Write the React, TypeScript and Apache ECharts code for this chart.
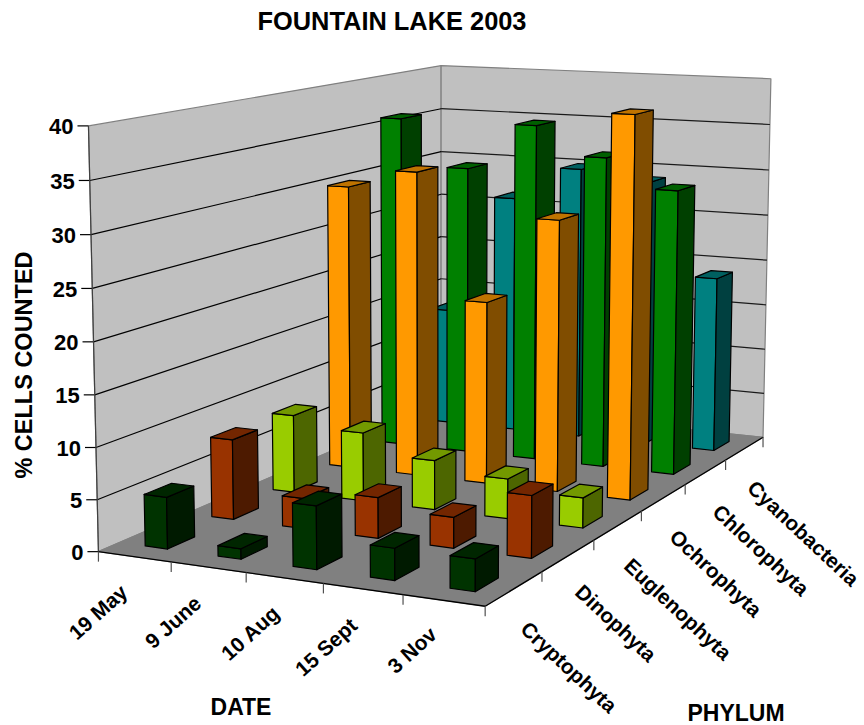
import React, { useEffect, useRef } from "react";
import * as echarts from "echarts";

const title = "FOUNTAIN LAKE 2003";
const dates = ["19 May", "9 June", "10 Aug", "15 Sept", "3 Nov"];
const phyla = ["Cryptophyta", "Dinophyta", "Euglenophyta", "Ochrophyta", "Chlorophyta", "Cyanobacteria"];
const valueTicks = [0, 5, 10, 15, 20, 25, 30, 35, 40];

const cryptophyta = [5, 1, 6, 3, 3];
const dinophyta = [8, 3, 4, 3, 6];
const euglenophyta = [8, 7, 5, 4, 3];
const ochrophyta = [30, 32, 19, 28, 39];
const chlorophyta = [36, 31, 36, 33, 30];
const cyanobacteria = [13, 26.3, 30, 29, 19];
const seriesValues = [cryptophyta, dinophyta, euglenophyta, ochrophyta, chlorophyta, cyanobacteria];

// front, side and top shades for each phylum
const shades = [
  ["#003300", "#001a00", "#002600"],
  ["#993300", "#4d1a00", "#732600"],
  ["#99cc00", "#4d6600", "#739900"],
  ["#ff9900", "#804d00", "#bf7300"],
  ["#008000", "#004000", "#006000"],
  ["#008080", "#004040", "#006060"],
];

const VALUE_MAX = 40;
const BAR_WIDTH = 0.31;
const BAR_DEPTH = 0.4;
const BAR_CENTRE = 0.51;

// Screen positions of known box corners: [date, phylum, value, screenX, screenY]
const anchors = [
  [0, 0, 0, 99, 551.5],
  [5, 0, 0, 485, 606],
  [5, 6, 0, 763.3, 437.3],
  [0, 6, 0, 441, 404],
  [0, 0, 40, 88.3, 125.7],
  [0, 6, 40, 441, 65.3],
  [5, 6, 40, 771, 79.3],
  [1, 0, 0, 171, 562],
  [2, 0, 0, 246, 573],
  [3, 0, 0, 323, 583.5],
  [4, 0, 0, 403, 595],
  [5, 1, 0, 542, 572],
  [5, 2, 0, 594, 540],
  [5, 3, 0, 641, 511],
  [5, 4, 0, 686, 484],
  [5, 5, 0, 725, 460],
  [0, 0, 20, 94, 341.7],
  [0, 6, 20, 441, 236.7],
  [5, 6, 20, 767, 260],
];

function fitCamera(points: number[][]): number[] {
  const n = 11;
  const ata = Array.from({ length: n }, () => new Array(n + 1).fill(0));
  const add = (row: number[], rhs: number) => {
    for (let i = 0; i < n; i++) {
      for (let j = 0; j < n; j++) ata[i][j] += row[i] * row[j];
      ata[i][n] += row[i] * rhs;
    }
  };
  for (const [a, b, c, u, v] of points) {
    const X = a / 5, Y = b / 6, Z = c / VALUE_MAX;
    add([X, Y, Z, 1, 0, 0, 0, 0, -u * X, -u * Y, -u * Z], u);
    add([0, 0, 0, 0, X, Y, Z, 1, -v * X, -v * Y, -v * Z], v);
  }
  for (let i = 0; i < n; i++) {
    let best = i;
    for (let r = i + 1; r < n; r++) if (Math.abs(ata[r][i]) > Math.abs(ata[best][i])) best = r;
    [ata[i], ata[best]] = [ata[best], ata[i]];
    for (let r = 0; r < n; r++) {
      if (r === i) continue;
      const f = ata[r][i] / ata[i][i];
      for (let c = i; c <= n; c++) ata[r][c] -= f * ata[i][c];
    }
  }
  return ata.map((row, i) => row[n] / row[i]);
}

const cam = fitCamera(anchors);
function project(a: number, b: number, c: number): number[] {
  const X = a / 5, Y = b / 6, Z = c / VALUE_MAX;
  const w = cam[8] * X + cam[9] * Y + cam[10] * Z + 1;
  return [
    (cam[0] * X + cam[1] * Y + cam[2] * Z + cam[3]) / w,
    (cam[4] * X + cam[5] * Y + cam[6] * Z + cam[7]) / w,
  ];
}

const quad = (pts: number[][], fill: string, stroke: string, lineWidth = 1.2) => ({
  type: "polygon",
  shape: { points: pts },
  style: { fill, stroke, lineWidth, lineJoin: "round" },
  silent: true,
});
const seg = (p: number[], q: number[], stroke: string, lineWidth = 1.2) => ({
  type: "line",
  shape: { x1: p[0], y1: p[1], x2: q[0], y2: q[1] },
  style: { stroke, lineWidth },
  silent: true,
});

function renderFrame() {
  const nDates = dates.length;
  const nPhyla = phyla.length;
  const a = project(0, 0, 0), b = project(nDates, 0, 0), c = project(nDates, nPhyla, 0), d = project(0, nPhyla, 0);
  const e = project(0, 0, VALUE_MAX), f = project(0, nPhyla, VALUE_MAX), g = project(nDates, nPhyla, VALUE_MAX);
  const children: any[] = [
    quad([a, d, f, e], "#c0c0c0", "#808080"),
    quad([d, c, g, f], "#c0c0c0", "#808080"),
    quad([a, b, c, d], "#808080", "#808080"),
  ];
  for (const v of valueTicks) {
    const p = project(0, 0, v), q = project(0, nPhyla, v), r = project(nDates, nPhyla, v);
    if (v > 0 && v < VALUE_MAX) {
      children.push(seg(p, q, "#000000"), seg(q, r, "#1a1a1a"));
    }
    children.push(seg([p[0] - 11, p[1]], p, "#000000"));
  }
  children.push(seg(a, e, "#404040"), seg(a, b, "#000000", 1.3), seg(b, c, "#000000", 1.3));
  for (let i = 0; i <= nDates; i++) {
    const p = project(i, 0, 0);
    children.push(seg(p, [p[0], p[1] + 10], "#505050"));
  }
  for (let j = 1; j <= nPhyla; j++) {
    const p = project(nDates, j, 0);
    children.push(seg(p, [p[0], p[1] + 10], "#505050"));
  }
  return { type: "group", children };
}

function renderBar(_: any, api: any) {
  const i = api.value(0), j = api.value(1), v = api.value(2);
  const x0 = i + BAR_CENTRE - BAR_WIDTH / 2, x1 = i + BAR_CENTRE + BAR_WIDTH / 2;
  const y0 = j + 0.5 - BAR_DEPTH / 2, y1 = j + 0.5 + BAR_DEPTH / 2;
  const [front, side, top] = shades[j];
  return {
    type: "group",
    children: [
      quad([project(x0, y0, 0), project(x1, y0, 0), project(x1, y0, v), project(x0, y0, v)], front, "#000000"),
      quad([project(x1, y0, 0), project(x1, y1, 0), project(x1, y1, v), project(x1, y0, v)], side, "#000000"),
      quad([project(x0, y0, v), project(x1, y0, v), project(x1, y1, v), project(x0, y1, v)], top, "#000000"),
    ],
  };
}

const label = (text: string, x: number, y: number, size: number, rotationDeg = 0, align = "center") => ({
  type: "text",
  x,
  y,
  rotation: (rotationDeg * Math.PI) / 180,
  silent: true,
  style: {
    text,
    fill: "#000000",
    font: `bold ${size}px "Liberation Sans", Arial, sans-serif`,
    align,
    verticalAlign: "middle",
  },
});

const dateLabelAt = [[98, 612], [173, 622], [250, 633], [326, 647], [412, 650]];
const phylumLabelAt = [[569, 667], [616, 623], [678, 609], [716, 573], [761, 550], [803.5, 533]];

export default function App() {
  const ref = useRef<HTMLDivElement>(null);
  useEffect(() => {
    const chart = echarts.init(ref.current!, null, { renderer: "svg" });
    // back rows first, left to right, so nearer bars paint over farther ones
    const barData: number[][] = [];
    for (let j = phyla.length - 1; j >= 0; j--) {
      for (let i = 0; i < dates.length; i++) barData.push([i, j, seriesValues[j][i]]);
    }
    chart.setOption({
      animation: false,
      graphic: [
        label(title, 392, 21, 25.4),
        label("% CELLS COUNTED", 24, 365, 23.5, 90),
        label("DATE", 241, 707, 23),
        label("PHYLUM", 736, 713, 23),
        ...valueTicks.map((v) => {
          const p = project(0, 0, v);
          return label(String(v), p[0] - 15, p[1] + 1, 22, 0, "right");
        }),
        ...dates.map((t, i) => label(t, dateLabelAt[i][0], dateLabelAt[i][1], 21, 42)),
        ...phyla.map((t, j) => label(t, phylumLabelAt[j][0], phylumLabelAt[j][1], 20.8, -43)),
      ],
      series: [
        { type: "custom", coordinateSystem: "none", z: 1, silent: true, data: [[0]], renderItem: renderFrame },
        { type: "custom", coordinateSystem: "none", z: 2, silent: true, data: barData, renderItem: renderBar },
      ],
    });
    return () => chart.dispose();
  }, []);
  return <div ref={ref} style={{ position: "absolute", left: 0, top: 0, width: 864, height: 725 }} />;
}
